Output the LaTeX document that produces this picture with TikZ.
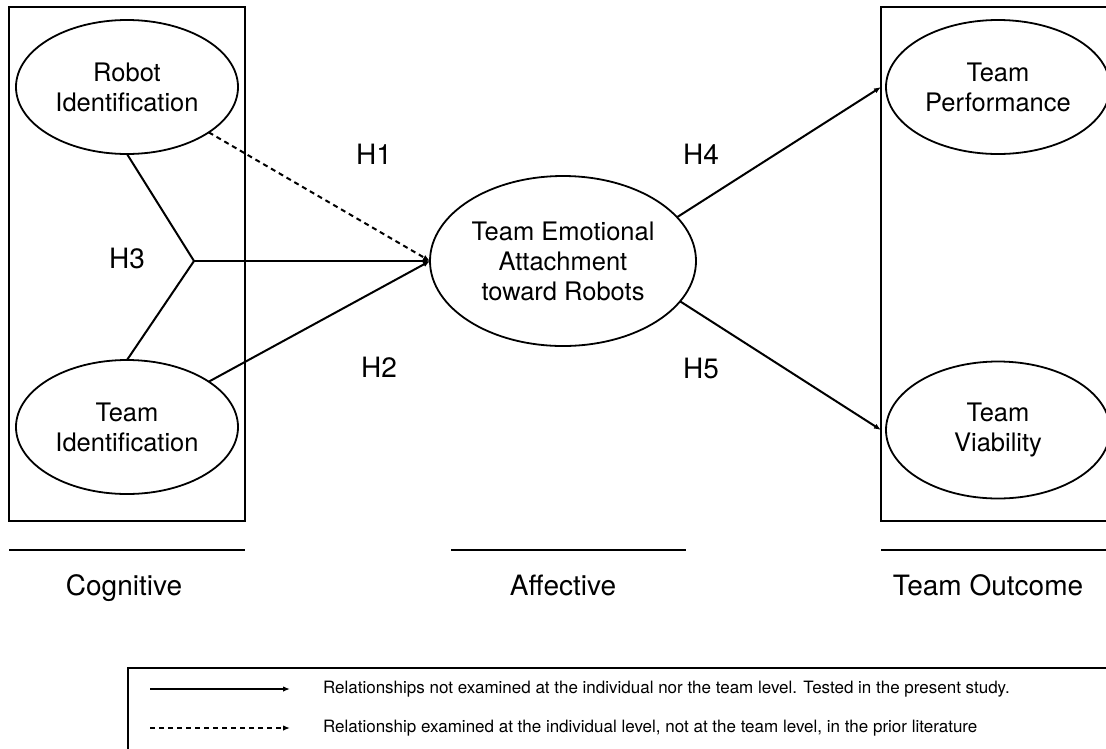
\documentclass[tikz,border=0pt]{standalone}
\usepackage{fontspec}
\setmainfont{TeX Gyre Heros}
\usetikzlibrary{shapes.geometric,arrows.meta}
\begin{document}
\begin{tikzpicture}[x=1pt,y=-1pt,
  every node/.style={inner sep=0pt, outer sep=0pt},
  construct/.style={draw, ellipse, line width=1.8pt, align=center,
    font=\fontsize{25.5}{30}\selectfont},
  frame/.style={draw, line width=1.8pt, rectangle},
  link/.style={line width=2pt},
  arr/.style={line width=2pt, -{Latex[length=7pt,width=5.5pt]}},
  dasharr/.style={line width=2pt, dash pattern=on 5pt off 4pt, -{Latex[length=7pt,width=5.5pt]}},
  hyp/.style={font=\fontsize{28}{30}\selectfont},
  cat/.style={font=\fontsize{28}{30}\selectfont},
  legtext/.style={anchor=west, font=\fontsize{17}{18}\selectfont}
]
\useasboundingbox (0,0) rectangle (1106,748);
\fill[white] (0,0) rectangle (1106,748);

% frames
\node[frame, minimum width=236pt, minimum height=514pt] (lb) at (127,264) {};
\node[frame, minimum width=239pt, minimum height=514pt] (ob) at (1000.5,264) {};

% constructs
\node[construct, minimum width=222pt, minimum height=134pt] (ri) at (127,87) {Robot\\Identification};
\node[construct, minimum width=222pt, minimum height=134pt] (ti) at (127,427) {Team\\Identification};
\node[construct, minimum width=266pt, minimum height=170pt] (tea) at (563,261) {Team Emotional\\Attachment\\toward Robots};
\node[construct, minimum width=224pt, minimum height=134pt] (tp) at (998,87) {Team\\Performance};
\node[construct, minimum width=224pt, minimum height=137pt] (tv) at (998,430) {Team\\Viability};

% junction
\coordinate (j) at (194,261);

% connectors
\draw[link] (ri.south) -- (j) -- (ti.north);
\draw[arr] (j) -- (tea.west);
\draw[dasharr] (ri.-29) -- (tea.west);
\draw[arr] (ti.29) -- (tea.west);
\draw[arr] (tea.21) -- (tp.west -| ob.west);
\draw[arr] (tea.-19) -- (tv.west -| ob.west);

% hypothesis labels
\node[hyp] (h1) at (374,154) {H1};
\node[hyp] (h2) at (379,367) {H2};
\node[hyp] (h3) at (127,258) {H3};
\node[hyp] (h4) at (701,154) {H4};
\node[hyp] (h5) at (701,368) {H5};

% category rules and labels
\draw[link] (9,550) -- (245,550);
\draw[link] (451,550) -- (686,550);
\draw[link] (881,550) -- (1120,550);
\node[cat, anchor=base] (c1) at (124,595) {Cognitive};
\node[cat, anchor=base] (c2) at (563,595) {Affective};
\node[cat, anchor=base] (c3) at (988,595) {Team Outcome};

% legend
\node[draw, line width=1.3pt, minimum width=992pt, minimum height=92pt] (leg) at (624,714) {};
\coordinate (s1) at (150,689);
\coordinate (e1) at (290,689);
\coordinate (s2) at (150,728);
\coordinate (e2) at (290,728);
\draw[arr] (s1) -- (e1);
\draw[dasharr] (s2) -- (e2);
\node[legtext] (l1) at (323,689) {Relationships not examined at the individual nor the team level. Tested in the present study.};
\node[legtext] (l2) at (323,728) {Relationship examined at the individual level, not at the team level, in the prior literature};
\end{tikzpicture}
\end{document}
